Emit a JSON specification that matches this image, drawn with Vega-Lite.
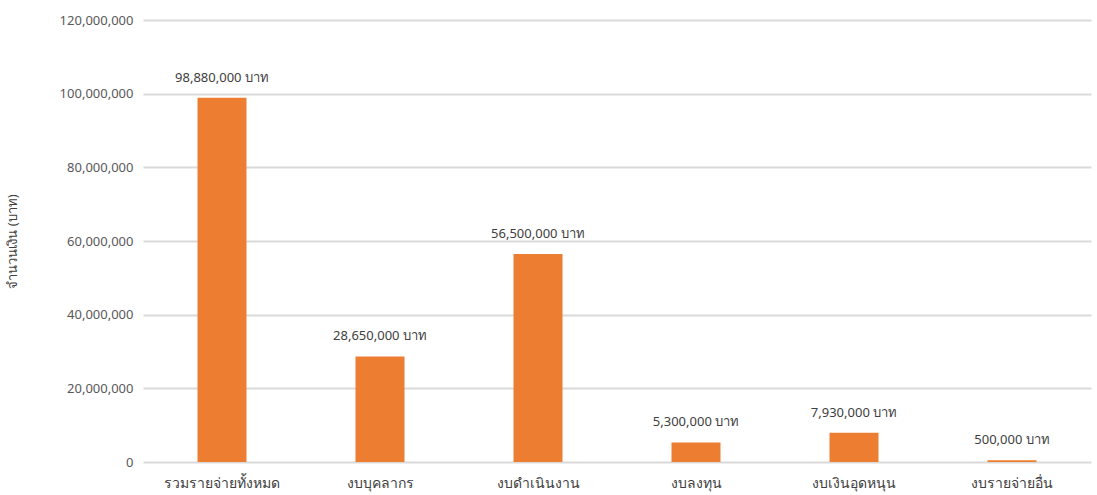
{
  "$schema": "https://vega.github.io/schema/vega-lite/v6.json",
  "autosize": {"type": "none"},
  "padding": {"left": 143, "top": 20, "right": 6, "bottom": 33},
  "width": 948,
  "height": 442,
  "background": "white",
  "config": {
    "view": {"stroke": null},
    "font": "Noto Sans"
  },
  "data": {
    "values": [
      {"category": "รวมรายจ่ายทั้งหมด", "amount": 98880000, "label": "98,880,000 บาท"},
      {"category": "งบบุคลากร", "amount": 28650000, "label": "28,650,000 บาท"},
      {"category": "งบดำเนินงาน", "amount": 56500000, "label": "56,500,000 บาท"},
      {"category": "งบลงทุน", "amount": 5300000, "label": "5,300,000 บาท"},
      {"category": "งบเงินอุดหนุน", "amount": 7930000, "label": "7,930,000 บาท"},
      {"category": "งบรายจ่ายอื่น", "amount": 500000, "label": "500,000 บาท"}
    ]
  },
  "encoding": {
    "x": {
      "field": "category",
      "type": "nominal",
      "sort": null,
      "scale": {"paddingInner": 0.69, "paddingOuter": 0.345},
      "axis": {
        "title": null,
        "labelAngle": 0,
        "domain": false,
        "ticks": false,
        "labelPadding": 14,
        "labelFontSize": 14,
        "labelColor": "#404040"
      }
    },
    "y": {
      "field": "amount",
      "type": "quantitative",
      "scale": {"domain": [0, 120000000], "nice": false},
      "axis": {
        "title": "จำนวนเงิน (บาท)",
        "titleFontSize": 13,
        "titleFontWeight": "normal",
        "titleColor": "#404040",
        "titlePadding": 40,
        "values": [0, 20000000, 40000000, 60000000, 80000000, 100000000, 120000000],
        "format": ",d",
        "domain": false,
        "ticks": false,
        "labelPadding": 10,
        "labelFontSize": 13,
        "labelColor": "#595959",
        "gridColor": "#d9d9d9",
        "gridWidth": 2
      }
    }
  },
  "layer": [
    {"mark": {"type": "bar", "color": "#ED7D31"}},
    {
      "mark": {"type": "text", "dy": -20, "fontSize": 13, "color": "#404040"},
      "encoding": {"text": {"field": "label", "type": "nominal"}}
    }
  ]
}
